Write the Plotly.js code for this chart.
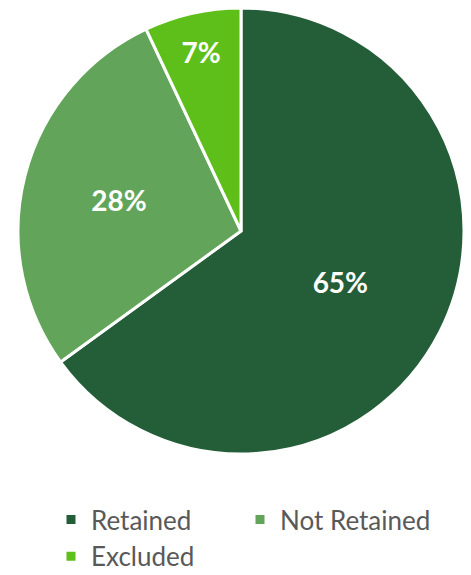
<!DOCTYPE html>
<html>
<head>
<meta charset="utf-8">
<script src="https://cdn.plot.ly/plotly-3.0.1.min.js"></script>
<style>html,body{margin:0;padding:0;background:#fff;}#chart{width:471px;height:575px;}</style>
</head>
<body>
<div id="chart"></div>
<script>
const categories = ["Retained", "Not Retained", "Excluded"];
const shares = [65, 28, 7];
const sliceColors = ["#245E38", "#62A55A", "#5FBF1A"];

const trace = {
  type: "pie",
  labels: categories,
  values: shares,
  sort: false,
  direction: "clockwise",
  rotation: 0,
  marker: { colors: sliceColors, line: { color: "#ffffff", width: 3 } },
  textinfo: "percent",
  texttemplate: "%{percent:.0%}",
  textposition: "inside",
  insidetextorientation: "horizontal",
  insidetextfont: { family: "Lato, sans-serif", size: 28, color: "#ffffff", weight: "bold" },
  hoverinfo: "label+percent",
  domain: { x: [18/471, 464/471], y: [1 - 454/575, 1 - 8/575] }
};

const layout = {
  width: 471, height: 575,
  margin: { l: 0, r: 0, t: 0, b: 0, autoexpand: false },
  paper_bgcolor: "#ffffff",
  showlegend: true,
  legend: {
    orientation: "h",
    x: 51/471, xanchor: "left",
    y: 1 - 496/575, yanchor: "top",
    font: { family: "Lato, sans-serif", size: 26, color: "#595959" },
    entrywidth: 144,
    entrywidthmode: "pixels",
    itemclick: false
  }
};

Plotly.newPlot("chart", [trace], layout, { displayModeBar: false, staticPlot: true });
</script>
</body>
</html>
